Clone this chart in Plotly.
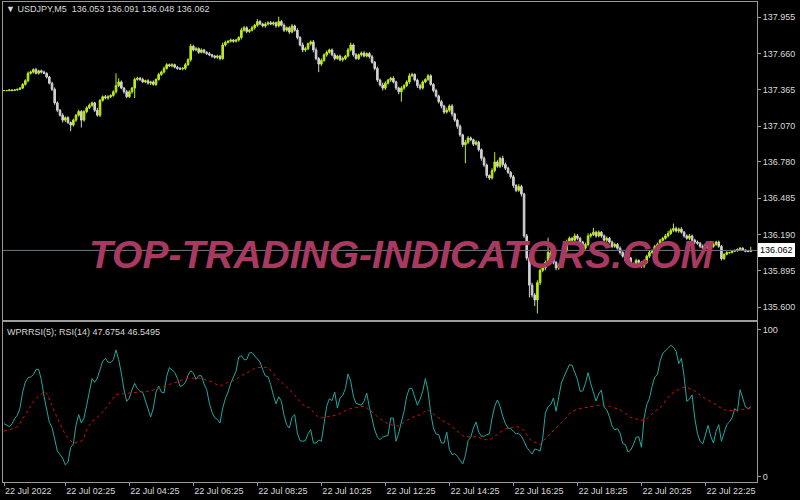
import plotly.graph_objects as go

# ---------------- data (USDJPY M5, 22 Jul 2022) ----------------
first_open = 137.36
close = [
    137.36, 137.36, 137.365, 137.36, 137.365, 137.37, 137.38, 137.41, 137.44, 137.50,
    137.51, 137.53, 137.50, 137.52, 137.51, 137.50, 137.47, 137.42, 137.37, 137.26,
    137.20, 137.16, 137.12, 137.14, 137.10, 137.08, 137.12, 137.16, 137.19, 137.12,
    137.19, 137.22, 137.24, 137.26, 137.20, 137.16, 137.28, 137.31, 137.30, 137.31,
    137.32, 137.35, 137.40, 137.43, 137.38, 137.35, 137.31, 137.35, 137.38, 137.45,
    137.46, 137.45, 137.43, 137.44, 137.42, 137.43, 137.41, 137.45, 137.49, 137.51,
    137.54, 137.57, 137.56, 137.57, 137.55, 137.54, 137.535, 137.54, 137.57, 137.61,
    137.72, 137.69, 137.70, 137.67, 137.69, 137.67, 137.66, 137.65, 137.64, 137.63,
    137.64, 137.62, 137.73, 137.75, 137.76, 137.77, 137.76, 137.77, 137.79, 137.85,
    137.87, 137.84, 137.85, 137.87, 137.89, 137.92, 137.90, 137.885, 137.90, 137.91,
    137.90, 137.91, 137.885, 137.92, 137.89, 137.85, 137.87, 137.835, 137.885, 137.85,
    137.79, 137.73, 137.69, 137.70, 137.74, 137.755, 137.69, 137.62, 137.575, 137.605,
    137.65, 137.67, 137.69, 137.65, 137.62, 137.64, 137.61, 137.62, 137.64, 137.69,
    137.73, 137.65, 137.62, 137.65, 137.665, 137.64, 137.66, 137.635, 137.59, 137.54,
    137.445, 137.405, 137.38, 137.42, 137.445, 137.46, 137.43, 137.38, 137.35, 137.38,
    137.40, 137.43, 137.48, 137.49, 137.445, 137.40, 137.38, 137.43, 137.45, 137.48,
    137.41, 137.36, 137.315, 137.27, 137.235, 137.185, 137.20, 137.235, 137.17, 137.12,
    137.07, 137.00, 136.92, 136.94, 136.975, 136.96, 136.925, 136.94, 136.88, 136.81,
    136.755, 136.67, 136.65, 136.71, 136.78, 136.745, 136.81, 136.76, 136.73, 136.695,
    136.66, 136.59, 136.55, 136.58, 136.52, 136.18, 136.00, 135.78, 135.70, 135.66,
    135.80, 135.90, 135.92, 135.965, 136.045, 136.00, 135.965, 135.92, 135.94, 136.00,
    136.06, 136.13, 136.16, 136.145, 136.18, 136.16, 136.13, 136.08, 136.11, 136.18,
    136.19, 136.21, 136.18, 136.21, 136.18, 136.145, 136.16, 136.13, 136.095, 136.11,
    136.08, 136.045, 136.015, 135.98, 136.00, 135.95, 135.935, 135.98, 135.965, 135.935,
    135.965, 136.015, 136.045, 136.06, 136.095, 136.11, 136.145, 136.16, 136.18, 136.20,
    136.225, 136.24, 136.22, 136.235, 136.21, 136.18, 136.16, 136.18, 136.145, 136.13,
    136.12, 136.095, 136.08, 136.11, 136.08, 136.095, 136.11, 136.13, 136.095, 135.995,
    136.03, 136.045, 136.045, 136.055, 136.06, 136.07, 136.08, 136.065, 136.055, 136.053,
    136.062,
]
# upper / lower shadow lengths, in 0.001 JPY
wick_up = [
    5, 4, 6, 5, 6, 5, 8, 10, 12, 15,   12, 10, 14, 8, 10, 12, 8, 10, 12, 15,
    12, 10, 15, 10, 12, 8, 12, 10, 15, 12,   10, 12, 15, 10, 8, 20, 12, 10, 15, 12,
    10, 12, 100, 30, 12, 10, 15, 12, 10, 15,   12, 10, 15, 8, 12, 10, 12, 10, 15, 12,
    15, 12, 10, 12, 8, 10, 12, 10, 15, 12,   20, 12, 15, 10, 12, 8, 10, 12, 8, 10,
    12, 10, 20, 15, 10, 12, 8, 10, 12, 20,   15, 12, 10, 15, 12, 20, 12, 10, 15, 12,
    15, 12, 10, 40, 12, 15, 10, 12, 15, 10,   15, 12, 20, 15, 10, 12, 15, 20, 12, 15,
    12, 15, 10, 12, 15, 10, 12, 15, 10, 15,   20, 12, 15, 10, 12, 15, 10, 12, 15, 10,
    15, 12, 20, 15, 10, 12, 15, 10, 12, 15,   12, 15, 20, 15, 10, 12, 15, 12, 10, 15,
    12, 10, 15, 12, 15, 10, 20, 12, 15, 10,   12, 15, 10, 20, 15, 12, 10, 15, 12, 10,
    15, 12, 10, 20, 80, 15, 12, 20, 15, 12,   12, 15, 10, 20, 15, 10, 15, 12, 20, 15,
    20, 15, 12, 15, 120, 20, 15, 12, 15, 20,   15, 20, 15, 12, 20, 15, 12, 10, 15, 20,
    15, 35, 12, 15, 10, 12, 15, 10, 12, 15,   12, 15, 10, 12, 15, 10, 12, 15, 10, 12,
    10, 12, 15, 10, 12, 15, 10, 12, 15, 20,   15, 40, 15, 12, 15, 10, 12, 15, 10, 12,
    12, 10, 15, 12, 10, 12, 15, 10, 12, 10,   8, 10, 6, 8, 10, 8, 10, 8, 6, 8, 29,
]
wick_down = [
    4, 5, 6, 5, 4, 6, 5, 8, 10, 12,   10, 12, 8, 10, 12, 8, 12, 10, 15, 15,
    15, 12, 20, 15, 12, 50, 12, 15, 12, 60,   12, 15, 10, 12, 15, 12, 15, 10, 12, 15,
    12, 10, 15, 12, 10, 15, 12, 10, 15, 80,   10, 12, 8, 10, 12, 15, 10, 12, 8, 10,
    12, 10, 8, 12, 10, 12, 8, 10, 12, 10,   15, 12, 10, 12, 8, 10, 12, 10, 15, 12,
    12, 15, 10, 12, 8, 10, 12, 10, 12, 15,   12, 15, 12, 10, 15, 12, 10, 12, 15, 12,
    10, 12, 15, 12, 10, 15, 12, 15, 10, 12,   15, 12, 20, 15, 12, 15, 20, 15, 65, 15,
    12, 15, 10, 12, 15, 10, 12, 15, 12, 10,   12, 15, 10, 12, 15, 10, 12, 15, 12, 15,
    15, 12, 20, 15, 12, 15, 12, 15, 20, 80,   15, 12, 15, 10, 12, 20, 15, 12, 10, 12,
    12, 15, 12, 15, 20, 15, 12, 15, 20, 15,   20, 15, 20, 150, 15, 12, 15, 12, 15, 20,
    15, 20, 15, 12, 15, 12, 15, 20, 15, 12,   15, 20, 15, 12, 20, 15, 20, 100, 20, 50,
    110, 20, 15, 20, 15, 20, 15, 20, 15, 12,   20, 15, 12, 15, 12, 15, 20, 15, 12, 15,
    15, 12, 15, 12, 15, 12, 15, 12, 15, 12,   12, 15, 12, 15, 12, 15, 12, 15, 12, 15,
    15, 12, 15, 12, 10, 12, 15, 12, 10, 12,   12, 15, 12, 15, 12, 15, 12, 15, 12, 15,
    12, 15, 12, 10, 12, 15, 12, 10, 12, 15,   10, 8, 10, 8, 6, 8, 10, 6, 8, 6, 5,
]
# WPRRSI(5) (teal) and RSI(14) (red dotted)
wprrsi = [
    36.3, 35.1, 34.2, 36.0, 39.7, 42.0, 46.9, 57.8, 64.6, 67.6,
    68.0, 69.6, 73.2, 73.2, 66.2, 54.9, 44.7, 37.2, 33.8, 25.4,
    17.7, 15.2, 12.9, 8.2, 10.0, 20.2, 22.4, 35.1, 42.4, 36.7,
    40.1, 48.8, 57.8, 66.9, 64.4, 67.3, 73.0, 78.7, 80.7, 78.2,
    77.8, 79.8, 86.4, 79.8, 70.5, 59.2, 51.5, 53.7, 59.4, 63.7,
    60.1, 58.3, 57.6, 51.7, 45.4, 40.8, 46.9, 57.8, 61.9, 57.8,
    57.1, 68.5, 74.4, 73.0, 71.2, 67.1, 61.7, 62.1, 64.4, 69.2,
    72.3, 70.7, 66.4, 68.9, 68.9, 63.3, 59.4, 50.1, 44.0, 40.4,
    39.2, 36.7, 46.9, 53.3, 57.8, 63.7, 67.8, 71.9, 81.4, 82.5,
    79.8, 79.8, 84.4, 84.6, 82.3, 80.5, 78.2, 73.0, 68.7, 68.3,
    62.8, 55.6, 49.7, 54.6, 51.5, 42.0, 35.6, 33.3, 40.6, 42.4,
    29.9, 24.7, 24.3, 24.7, 29.3, 32.2, 23.1, 23.1, 25.2, 24.3,
    37.9, 48.1, 53.3, 51.9, 57.8, 46.9, 53.7, 55.6, 60.1, 70.1,
    65.1, 54.9, 50.1, 49.2, 48.8, 51.5, 57.1, 47.4, 40.6, 32.0,
    27.2, 25.4, 27.2, 27.7, 28.3, 40.1, 40.1, 24.3, 29.9, 37.4,
    44.7, 54.9, 60.3, 60.1, 53.7, 48.8, 52.8, 58.3, 66.9, 58.3,
    43.5, 33.3, 29.3, 28.8, 23.1, 23.1, 30.6, 18.6, 15.2, 15.9,
    14.1, 11.8, 8.8, 14.7, 24.7, 27.0, 33.3, 37.4, 30.6, 27.7,
    27.7, 28.8, 29.3, 40.1, 48.1, 52.4, 48.1, 41.3, 36.3, 33.3,
    32.9, 31.1, 29.3, 29.7, 27.7, 24.3, 20.2, 17.9, 15.6, 19.0,
    18.6, 17.5, 26.5, 43.5, 47.8, 49.2, 53.7, 44.7, 53.3, 63.9,
    68.3, 71.9, 76.4, 76.0, 71.4, 66.4, 58.3, 58.5, 63.7, 71.0,
    63.5, 57.1, 51.7, 56.5, 59.2, 47.4, 45.8, 41.0, 34.7, 32.0,
    32.9, 29.9, 22.7, 22.0, 17.0, 18.4, 22.0, 27.0, 27.4, 20.2,
    40.1, 49.2, 53.3, 61.7, 68.0, 69.6, 78.7, 84.1, 85.7, 87.5,
    89.6, 88.2, 85.5, 77.1, 80.7, 68.5, 51.5, 52.8, 55.8, 40.1,
    29.7, 24.3, 22.4, 28.8, 35.1, 27.7, 23.1, 31.1, 35.6, 24.3,
    29.9, 35.6, 37.4, 40.4, 46.5, 44.7, 59.4, 54.2, 47.6, 46.5,
    47.6754,
]
rsi = [
    31.3, 31.5, 32.0, 32.7, 33.6, 34.2, 36.7, 39.5, 42.4, 45.8,
    48.8, 51.0, 53.3, 55.1, 56.9, 58.0, 57.1, 52.6, 48.5, 44.4,
    40.1, 36.1, 32.2, 28.8, 26.5, 24.3, 22.9, 23.6, 24.0, 24.3,
    27.2, 32.2, 35.1, 37.9, 39.2, 40.4, 42.2, 44.2, 46.5, 48.8,
    50.8, 53.3, 56.0, 56.5, 56.5, 56.5, 56.7, 57.1, 57.4, 57.6,
    57.8, 57.8, 58.0, 58.0, 58.3, 58.5, 59.2, 59.9, 60.5, 61.2,
    61.7, 62.4, 63.0, 63.5, 64.2, 64.9, 65.3, 66.0, 66.7, 67.1,
    67.3, 67.3, 67.3, 67.3, 67.1, 66.4, 65.8, 65.3, 64.6, 63.5,
    62.6, 62.4, 62.4, 63.5, 64.4, 65.1, 65.5, 66.7, 67.8, 68.9,
    69.8, 70.7, 71.9, 73.2, 73.9, 74.4, 74.6, 74.6, 74.6, 74.4,
    72.6, 70.3, 67.8, 66.0, 64.2, 62.6, 61.2, 59.6, 57.8, 55.6,
    53.3, 51.2, 49.2, 48.3, 47.4, 46.5, 44.0, 42.0, 40.8, 40.1,
    40.6, 41.0, 41.3, 41.5, 41.7, 42.2, 43.3, 44.4, 45.1, 46.0,
    46.5, 46.9, 47.4, 47.6, 47.8, 48.1, 47.4, 45.1, 44.4, 42.4,
    41.0, 39.7, 38.3, 37.2, 36.3, 35.6, 35.1, 34.5, 34.9, 36.1,
    36.9, 38.1, 39.7, 40.6, 41.0, 41.5, 42.4, 43.1, 45.1, 45.6,
    44.4, 42.6, 41.5, 40.1, 38.8, 37.6, 36.7, 35.8, 34.2, 32.4,
    30.8, 29.5, 28.1, 27.4, 27.2, 27.0, 27.2, 27.7, 27.0, 26.1,
    25.4, 25.4, 25.4, 26.3, 27.4, 28.6, 30.2, 31.7, 32.7, 33.1,
    33.6, 34.0, 34.5, 33.8, 32.9, 31.7, 28.8, 26.1, 24.5, 23.6,
    22.7, 22.0, 24.3, 26.1, 27.7, 29.3, 31.1, 32.9, 34.5, 36.7,
    38.8, 40.8, 43.1, 44.4, 45.4, 46.0, 46.5, 46.9, 47.4, 47.8,
    48.1, 48.3, 48.5, 48.8, 48.8, 48.5, 48.3, 48.1, 47.6, 47.2,
    46.7, 45.8, 44.4, 43.1, 41.5, 40.6, 39.9, 39.5, 39.2, 38.5,
    38.3, 39.7, 41.0, 42.9, 44.7, 45.8, 46.9, 49.2, 51.9, 54.2,
    56.2, 57.4, 58.5, 59.4, 60.3, 61.0, 60.8, 60.1, 59.6, 58.7,
    57.1, 55.8, 54.2, 53.1, 52.4, 51.5, 50.3, 49.0, 47.6, 46.7,
    46.0, 45.1, 45.1, 45.1, 45.4, 45.6, 45.8, 46.0, 46.3, 46.5,
    46.5495,
]
price_ticks = [137.955, 137.660, 137.365, 137.070, 136.780, 136.485, 136.190, 135.895, 135.600]
price_tick_text = ["137.955", "137.660", "137.365", "137.070", "136.780", "136.485", "136.190", "135.895", "135.600"]
time_tick_bars = [0, 23, 47, 71, 95, 119, 143, 167, 191, 215, 239, 263]
time_tick_text = ["22 Jul 2022", "22 Jul 02:25", "22 Jul 04:25", "22 Jul 06:25", "22 Jul 08:25",
                  "22 Jul 10:25", "22 Jul 12:25", "22 Jul 14:25", "22 Jul 16:25", "22 Jul 18:25",
                  "22 Jul 20:25", "22 Jul 22:25"]
last_price = 136.062
header = "USDJPY,M5  136.053 136.091 136.048 136.062"
ind_header = "WPRRSI(5); RSI(14) 47.6754 46.5495"
watermark = "TOP-TRADING-INDICATORS.COM"

# ---------------- build OHLC ----------------
bars = list(range(len(close)))
open_ = [first_open] + close[:-1]
high = [max(o, c) + u / 1000 for o, c, u in zip(open_, close, wick_up)]
low = [min(o, c) - d / 1000 for o, c, d in zip(open_, close, wick_down)]

BULL = "#BDEE10"
BEAR = "#D2D2D2"
FRAME = "#9A9A9A"
TXT = "#DADADA"
FONT = "Liberation Sans"

fig = go.Figure()
fig.add_trace(go.Candlestick(
    x=bars, open=open_, high=high, low=low, close=close,
    increasing=dict(line=dict(color=BULL, width=1), fillcolor=BULL),
    decreasing=dict(line=dict(color=BEAR, width=1), fillcolor=BEAR),
    whiskerwidth=0, xaxis="x", yaxis="y", showlegend=False, hoverinfo="skip",
))
fig.add_trace(go.Scatter(x=bars, y=wprrsi, mode="lines", line=dict(color="#20A8A0", width=1),
                         xaxis="x2", yaxis="y2", showlegend=False, hoverinfo="skip"))
fig.add_trace(go.Scatter(x=bars, y=rsi, mode="lines", line=dict(color="#D01010", width=1, dash="dot"),
                         xaxis="x2", yaxis="y2", showlegend=False, hoverinfo="skip"))

xr = [-0.375, 282.34]
fig.update_layout(
    width=800, height=500,
    margin=dict(l=3, r=43, t=2, b=18),
    paper_bgcolor="black", plot_bgcolor="black",
    font=dict(family=FONT, size=9, color=TXT),
    boxgap=0.15,
    xaxis=dict(domain=[0, 1], anchor="y", range=xr, showgrid=False, zeroline=False,
               showticklabels=False, ticks="", showline=True, mirror=True, linecolor=FRAME,
               linewidth=1, rangeslider=dict(visible=False), fixedrange=True),
    yaxis=dict(domain=[0.3375, 1], anchor="x", range=[135.497, 138.079], side="right",
               showgrid=False, zeroline=False, showline=True, mirror=True, linecolor=FRAME,
               tickvals=price_ticks, ticktext=price_tick_text, ticks="outside", ticklen=3,
               tickcolor=FRAME, tickfont=dict(size=9, color=TXT, family=FONT)),
    xaxis2=dict(domain=[0, 1], anchor="y2", range=xr, matches="x", showgrid=False, zeroline=False,
                showline=True, mirror=True, linecolor=FRAME, tickvals=time_tick_bars,
                ticktext=time_tick_text, ticks="outside", ticklen=3, tickcolor=FRAME,
                ticklabelposition="outside right", tickfont=dict(size=9, color=TXT, family=FONT)),
    yaxis2=dict(domain=[0, 0.3333], anchor="x2", range=[-3.4, 105.4], side="right", showgrid=False,
                zeroline=False, showline=True, mirror=True, linecolor=FRAME, tickvals=[0, 100],
                ticktext=["0", "100"], ticks="outside", ticklen=3, tickcolor=FRAME,
                tickfont=dict(size=9, color=TXT, family=FONT)),
)

# current price line and its label
fig.add_shape(type="line", xref="x", yref="y", x0=xr[0], x1=xr[1], y0=last_price, y1=last_price,
              line=dict(color="#6A7A88", width=1))
fig.add_annotation(xref="paper", yref="y", x=1.0, y=last_price, xanchor="left", yanchor="middle",
                   xshift=1, text=f"{last_price:.3f}", showarrow=False, bgcolor="white",
                   bordercolor="white", borderpad=1, font=dict(family=FONT, size=9, color="black"))

# watermark
fig.add_annotation(xref="paper", yref="paper", x=0.5285, y=0.475, xanchor="center", yanchor="middle",
                   text=f"<b><i>{watermark}</i></b>", showarrow=False,
                   font=dict(family=FONT, size=39, color="#A83A62"))

# headers
fig.add_annotation(xref="paper", yref="paper", x=0.001, y=0.999, xanchor="left", yanchor="top",
                   text="▼ " + header, showarrow=False, font=dict(family=FONT, size=9, color=TXT))
fig.add_annotation(xref="paper", yref="paper", x=0.002, y=0.3333, xanchor="left", yanchor="top",
                   yshift=-3, text=ind_header, showarrow=False,
                   font=dict(family=FONT, size=9, color=TXT))

fig.write_html("out.html", config={"displayModeBar": False, "staticPlot": True},
               post_script="document.body.style.margin='0px';document.body.style.overflow='hidden';")
